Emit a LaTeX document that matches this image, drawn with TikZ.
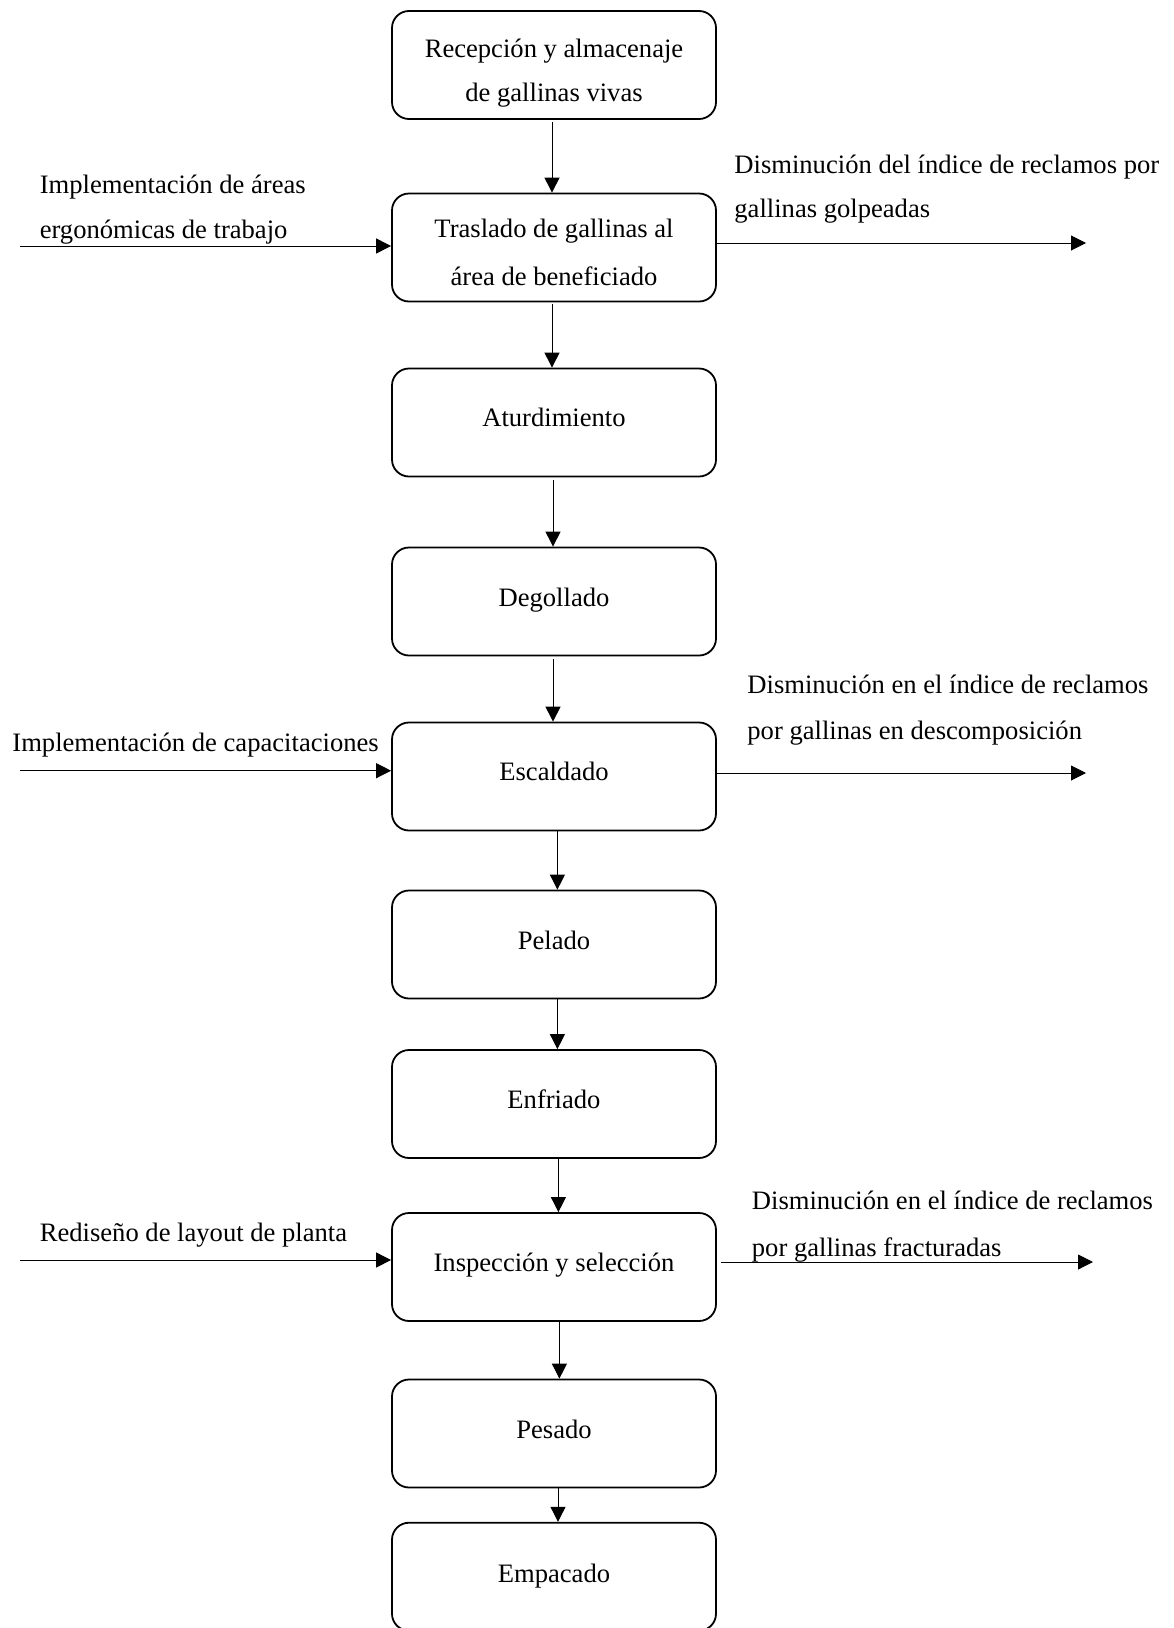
\documentclass[tikz,border=0pt]{standalone}
\usepackage{fontspec}
\setmainfont{Liberation Serif}
\usetikzlibrary{arrows.meta}
\begin{document}
\begin{tikzpicture}[x=0.5pt,y=-0.5pt,
  box/.style={draw, line width=0.9pt, rounded corners=8.5pt, minimum width=162pt, minimum height=54pt, inner sep=0pt},
  txt/.style={inner sep=0pt, font=\fontsize{13.3}{22.35}\selectfont},
  arr/.style={line width=0.5pt, -{Triangle[length=7.5pt,width=7.5pt]}}
]
\useasboundingbox (0,0) rectangle (1173,1628);
% boxes
\node[box] (b1) at (554,65) {};
\node[box] (b2) at (554,247.5) {};
\node[box] (b3) at (554,422.5) {};
\node[box] (b4) at (554,601.5) {};
\node[box] (b5) at (554,776.5) {};
\node[box] (b6) at (554,944.5) {};
\node[box] (b7) at (554,1104) {};
\node[box] (b8) at (554,1267) {};
\node[box] (b9) at (554,1433.5) {};
\node[box] (b10) at (554,1576.7) {};
% box texts
\node[txt, anchor=base] (t1a) at (554,57.2) {Recepción y almacenaje};
\node[txt, anchor=base] (t1b) at (554,101.9) {de gallinas vivas};
\node[txt, anchor=base] (t2a) at (554,237.5) {Traslado de gallinas al};
\node[txt, anchor=base] (t2b) at (554,285.5) {área de beneficiado};
\node[txt, anchor=base] (t3) at (554,426.7) {Aturdimiento};
\node[txt, anchor=base] (t4) at (554,606.5) {Degollado};
\node[txt, anchor=base] (t5) at (554,780.5) {Escaldado};
\node[txt, anchor=base] (t6) at (554,949.5) {Pelado};
\node[txt, anchor=base] (t7) at (554,1108.5) {Enfriado};
\node[txt, anchor=base] (t8) at (554,1271.5) {Inspección y selección};
\node[txt, anchor=base] (t9) at (554,1438.5) {Pesado};
\node[txt, anchor=base] (t10) at (554,1582) {Empacado};
% vertical connectors
\draw[arr] ([xshift=-1pt,yshift=-1pt]b1.south) -- ([xshift=-1pt]b2.north);
\draw[arr] ([xshift=-1pt,yshift=-1pt]b2.south) -- ([xshift=-1pt]b3.north);
\draw[arr] ([xshift=-0.5pt,yshift=-1.5pt]b3.south) -- ([xshift=-0.5pt]b4.north);
\draw[arr] ([xshift=-0.5pt,yshift=-1.5pt]b4.south) -- ([xshift=-0.5pt]b5.north);
\draw[arr] ([xshift=1.7pt]b5.south) -- ([xshift=1.7pt]b6.north);
\draw[arr] ([xshift=1.7pt]b6.south) -- ([xshift=1.7pt]b7.north);
\draw[arr] ([xshift=2.2pt]b7.south) -- ([xshift=2.2pt]b8.north);
\draw[arr] ([xshift=2.7pt]b8.south) -- ([xshift=2.7pt]b9.north);
\draw[arr] ([xshift=2pt]b9.south) -- ([xshift=2pt]b10.north);
% side connectors
\coordinate (l1) at (20,246);
\coordinate (r1) at (1086,243);
\coordinate (l2) at (20,770.7);
\coordinate (r2) at (1086,773);
\coordinate (l3) at (20,1260);
\coordinate (r3) at (1093,1262);
\draw[arr] (l1) -- (l1 -| b2.west);
\draw[arr] (b2.east |- r1) -- (r1);
\draw[arr] (l2) -- (l2 -| b5.west);
\draw[arr] (b5.east |- r2) -- (r2);
\draw[arr] (l3) -- (l3 -| b8.west);
\draw[arr] ([xshift=2pt]b8.east |- r3) -- (r3);
% side labels
\node[txt, anchor=base west] (s1a) at (39.4,193.2) {Implementación de áreas};
\node[txt, anchor=base west] (s1b) at (39.4,238.9) {ergonómicas de trabajo};
\node[txt, anchor=base west] (s2a) at (734,173.5) {Disminución del índice de reclamos por};
\node[txt, anchor=base west] (s2b) at (734,217.1) {gallinas golpeadas};
\node[txt, anchor=base west] (s3) at (12,751.7) {Implementación de capacitaciones};
\node[txt, anchor=base west] (s4a) at (747,693.5) {Disminución en el índice de reclamos};
\node[txt, anchor=base west] (s4b) at (747,739.2) {por gallinas en descomposición};
\node[txt, anchor=base west] (s5) at (39.4,1241.5) {Rediseño de layout de planta};
\node[txt, anchor=base west] (s6a) at (751.5,1209.5) {Disminución en el índice de reclamos};
\node[txt, anchor=base west] (s6b) at (751.5,1256.1) {por gallinas fracturadas};
\end{tikzpicture}
\end{document}
